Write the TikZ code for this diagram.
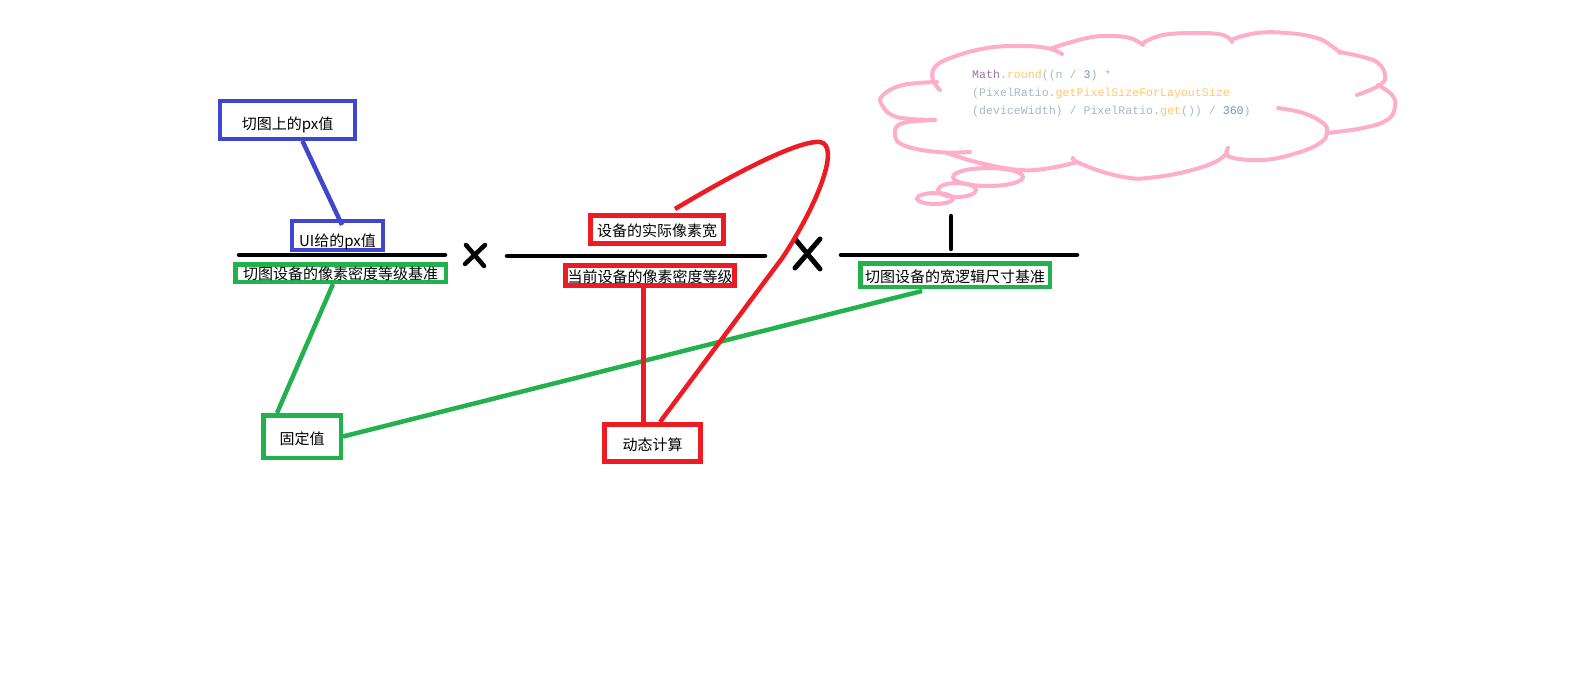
\documentclass[tikz,border=0pt]{standalone}
\usepackage{fontspec}
\newfontfamily\cjk{Noto Sans CJK SC}
\newfontfamily\codefont{Liberation Mono}
\definecolor{pblue}{HTML}{3F48CC}
\definecolor{pgreen}{HTML}{22B14C}
\definecolor{pred}{HTML}{ED1C24}
\definecolor{ppink}{HTML}{FFAEC9}
\definecolor{cpurple}{HTML}{9876AA}
\definecolor{corange}{HTML}{FFC66D}
\definecolor{cgray}{HTML}{A9B7C6}
\definecolor{cbluenum}{HTML}{6897BB}
\tikzset{
  lbl/.style={draw, rectangle, inner sep=0pt, text height=14pt, text depth=1pt,
    font=\cjk\fontsize{15}{18}\selectfont, text=black},
  bluebox/.style={lbl, draw=pblue, line width=4pt},
  greenbox/.style={lbl, draw=pgreen, line width=4.5pt},
  redbox/.style={lbl, draw=pred, line width=5pt},
  blueline/.style={draw=pblue, line width=4.5pt},
  greenline/.style={draw=pgreen, line width=4.5pt},
  redline/.style={draw=pred, line width=4.5pt},
  blackline/.style={draw=black, line width=4.5pt, line cap=round},
  cloudline/.style={draw=ppink, line width=4pt, line cap=round},
  codetext/.style={anchor=base west, inner sep=0pt, font=\codefont\fontsize{11.6}{14}\selectfont, text=cgray}
}
\begin{document}
\begin{tikzpicture}[x=1pt,y=-1pt]
\useasboundingbox (0,0) rectangle (1570,679);
% cloud
\draw[cloudline] plot[smooth, tension=0.7] coordinates {(940,90) (933,80) (935,67) (953,57) (987,48) (1020,46) (1047,48) (1062,54)};
\draw[cloudline] plot[smooth, tension=0.7] coordinates {(1052,48) (1087,38) (1110,36) (1130,38) (1143,45)};
\draw[cloudline] plot[smooth, tension=0.7] coordinates {(1143,43) (1163,35) (1197,33) (1223,35) (1232,42)};
\draw[cloudline] plot[smooth, tension=0.7] coordinates {(1233,39) (1257,33) (1287,33) (1317,38) (1333,47) (1340,53)};
\draw[cloudline] plot[smooth, tension=0.7] coordinates {(1340,52) (1363,57) (1378,63) (1385,75) (1380,85) (1357,95)};
\draw[cloudline] plot[smooth, tension=0.7] coordinates {(1378,85) (1392,95) (1395,107) (1387,120) (1363,128) (1327,133)};
\draw[cloudline] plot[smooth, tension=0.7] coordinates {(1278,108) (1303,113) (1323,123) (1327,133) (1320,143) (1297,153) (1263,160) (1230,157) (1228,148)};
\draw[cloudline] plot[smooth, tension=0.7] coordinates {(1227,153) (1213,163) (1180,173) (1147,178) (1130,178) (1103,172) (1077,162) (1073,158)};
\draw[cloudline] plot[smooth, tension=0.7] coordinates {(947,153) (980,163) (1020,170) (1050,168) (1077,162)};
\draw[cloudline] plot[smooth, tension=0.7] coordinates {(935,120) (903,123) (895,133) (903,145) (937,152) (970,152)};
\draw[cloudline] plot[smooth, tension=0.7] coordinates {(937,82) (903,85) (883,95) (882,105) (897,117) (935,120)};
\draw[cloudline] (988,177) ellipse [x radius=35, y radius=9];
\draw[cloudline] (957,190) ellipse [x radius=19, y radius=7];
\draw[cloudline] (935,198.5) ellipse [x radius=18, y radius=5.5];
\node[codetext] (c1) at (972,79) {\textcolor{cpurple}{Math}.\textcolor{corange}{round}((n / \textcolor{cbluenum}{3}) *};
\node[codetext] (c2) at (972,97) {(PixelRatio.\textcolor{corange}{getPixelSizeForLayoutSize}};
\node[codetext] (c3) at (972,115) {(deviceWidth) / PixelRatio.\textcolor{corange}{get}()) / \textcolor{cbluenum}{360})};
% nodes
\node[bluebox, minimum width=135pt, minimum height=38pt, text height=19pt, text depth=0pt] (b1) at (287.5,120) {切图上的px值};
\node[bluebox, minimum width=91pt, minimum height=29pt, text height=22pt, text depth=0pt] (b2) at (337.5,235.5) {UI给的px值};
\node[greenbox, minimum width=210.5pt, minimum height=17.5pt] (g1) at (340.5,273) {切图设备的像素密度等级基准};
\node[redbox, minimum width=133pt, minimum height=28pt] (r1) at (657,229.5) {设备的实际像素宽};
\node[redbox, minimum width=169pt, minimum height=20pt] (r2) at (650,275.5) {当前设备的像素密度等级};
\node[greenbox, minimum width=189.5pt, minimum height=23.5pt, text height=15pt, text depth=0pt] (g3) at (955,275) {切图设备的宽逻辑尺寸基准};
\node[greenbox, minimum width=77.5pt, minimum height=42.5pt, text height=15pt, text depth=0pt] (fix) at (302,436.5) {固定值};
\node[redbox, minimum width=96pt, minimum height=37pt, text height=15pt, text depth=0pt] (dyn) at (652.5,443) {动态计算};
% fraction bars and operators
\draw[blackline] (239,255) -- (445,255);
\draw[blackline] (507,256) -- (765,256);
\draw[blackline] (841,255) -- (1077,255);
\draw[blackline] (951,216) -- (951,249);
\draw[blackline] (466,245) -- (484,266);
\draw[blackline] (485,245) -- (465,264);
\draw[blackline,line width=5pt] (795,239) -- (820,269);
\draw[blackline,line width=5pt] (820,239) -- (795,268);
% connectors
\draw[blueline] ([xshift=15pt]b1.south) -- ([xshift=4.5pt,yshift=-6pt]b2.north);
\draw[greenline] ([xshift=-7.5pt]g1.south) -- ([xshift=-25pt]fix.north);
\draw[greenline] (fix.east) -- ([xshift=-33pt,yshift=-2pt]g3.south);
\draw[redline] ([xshift=-6.5pt,yshift=3pt]r2.south) -- ([xshift=-9pt]dyn.north);
\coordinate (dynA) at ([xshift=7.5pt]dyn.north);
\coordinate (r1A) at ([xshift=18pt,yshift=4pt]r1.north);
\draw[redline] (dynA) -- (783,257) .. controls (820,200) and (840,145) .. (820,142)
  .. controls (800,140) and (740,170) .. (r1A);
\end{tikzpicture}
\end{document}
